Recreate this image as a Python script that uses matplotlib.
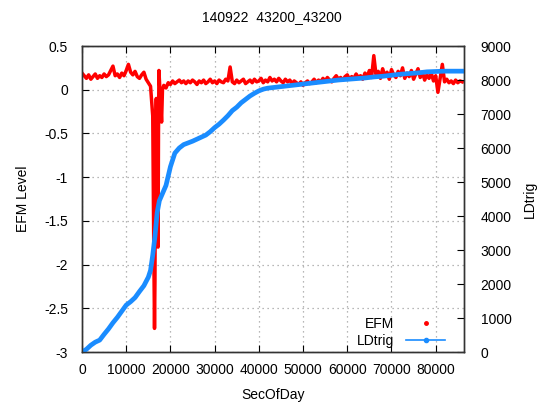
import matplotlib
matplotlib.use("Agg")
import matplotlib.pyplot as plt
from matplotlib.lines import Line2D

plt.rcParams['font.family'] = ['Liberation Sans', 'DejaVu Sans']
plt.rcParams['font.size'] = 10

# EFM level (seconds of day / level)
efm_sec = list(range(0, 16000, 500)) + [16000, 16200, 16400, 16500, 16600, 16800, 17000,
                                        17200, 17300, 17400, 17600, 17800, 18000, 18200] \
          + list(range(18500, 86500, 500))
efm_val = [0.19, 0.16, 0.13, 0.17, 0.12, 0.15, 0.18, 0.13, 0.16, 0.14,
           0.18, 0.15, 0.17, 0.22, 0.27, 0.16, 0.18, 0.14, 0.19, 0.16,
           0.22, 0.29, 0.20, 0.17, 0.21, 0.15, 0.13, 0.17, 0.20, 0.12,
           0.08, 0.04,
           # the dip
           -0.30, -1.60, -2.73, -2.20, -0.90, -0.10, -1.20,
           -1.80, -0.50, 0.22, 0.02, -0.15, -0.37, 0.00,
           # after
           0.05, 0.02, 0.08, 0.06, 0.10, 0.07, 0.09, 0.11, 0.08, 0.10,
           0.07, 0.10, 0.08, 0.11, 0.09, 0.06, 0.10, 0.08, 0.11, 0.07,
           0.09, 0.12, 0.08, 0.10, 0.07, 0.11, 0.09, 0.08, 0.12, 0.10,
           0.26, 0.09, 0.07, 0.11, 0.08, 0.10, 0.12, 0.07, 0.09, 0.11,
           0.08, 0.12, 0.09, 0.10, 0.13, 0.08, 0.11, 0.09, 0.14, 0.10,
           0.12, 0.09, 0.13, 0.10, 0.08, 0.12, 0.09, 0.11, 0.07, 0.10,
           0.08, 0.06, 0.09, 0.05, 0.08, 0.10, 0.07, 0.09, 0.12, 0.08,
           0.11, 0.09, 0.13, 0.10, 0.14, 0.11, 0.09, 0.13, 0.16, 0.12,
           0.14, 0.11, 0.15, 0.17, 0.12, 0.15, 0.13, 0.18, 0.14, 0.16,
           0.12, 0.19, 0.15, 0.22, 0.14, 0.39, 0.17, 0.21, 0.13, 0.24,
           0.16, 0.20, 0.12, 0.23, 0.17, 0.14, 0.21, 0.16, 0.25, 0.13,
           0.19, 0.15, 0.22, 0.12, 0.18, 0.24, 0.14, 0.20, 0.11, 0.17,
           0.13, 0.19, 0.10, 0.16, -0.03, 0.13, 0.29, 0.09, 0.12, 0.08,
           0.10, 0.07, 0.11, 0.08, 0.10, 0.09]

# LDtrig counts
ld_sec = [0, 1000, 2000, 3000, 4000, 5000, 6000, 7000, 8000, 9000,
          10000, 11000, 12000, 13000, 14000, 15000, 15500, 16000, 16500, 17000,
          17500, 18000, 19000, 20000, 21000, 22000, 23000, 24000, 25000, 26000,
          27000, 28000, 29000, 30000, 31000, 32000, 33000, 34000, 35000, 36000,
          37000, 38000, 39000, 40000, 41000, 42000, 44000, 46000, 48000, 50000,
          52000, 54000, 56000, 58000, 60000, 62000, 64000, 66000, 68000, 70000,
          72000, 74000, 76000, 78000, 80000, 82000, 84000, 86400]
ld_val = [0, 80, 200, 290, 350, 520, 680, 860, 1020, 1200,
          1380, 1480, 1600, 1780, 1950, 2200, 2400, 2850, 3400, 4100,
          4450, 4600, 4900, 5450, 5850, 6000, 6100, 6150, 6200, 6260,
          6320, 6380, 6480, 6600, 6700, 6820, 6950, 7100, 7200, 7330,
          7430, 7530, 7610, 7680, 7730, 7760, 7790, 7820, 7850, 7880,
          7910, 7940, 7970, 8000, 8020, 8040, 8060, 8090, 8110, 8140,
          8170, 8190, 8210, 8240, 8250, 8260, 8260, 8260]

red = '#ff0000'
blue = '#1a8cff'

fig = plt.figure(figsize=(5.44, 4.05), dpi=100)
ax = fig.add_axes([82 / 544, 1 - 352 / 405, (464 - 82) / 544, (352 - 46) / 405])
ax2 = ax.twinx()

ax.plot(efm_sec, efm_val, color=red, lw=2.5)
ax2.plot(ld_sec, ld_val, color=blue, lw=3.4, solid_capstyle='round')

ax.set_xlim(0, 86400)
ax.set_ylim(-3, 0.5)
ax2.set_ylim(0, 9000)
ax.set_xticks(range(0, 80001, 10000))
ax.set_yticks([-3, -2.5, -2, -1.5, -1, -0.5, 0, 0.5])
ax.set_yticklabels(['-3', '-2.5', '-2', '-1.5', '-1', '-0.5', '0', '0.5'])
ax2.set_yticks(range(0, 9001, 1000))

ax.grid(True, color='#a0a0a0', linestyle=(0, (1, 3)), linewidth=0.9)
ax.tick_params(axis='both', direction='in', length=5, top=True, labelsize=10, pad=8)
ax.tick_params(axis='y', pad=10)
ax2.tick_params(axis='y', direction='in', length=5, labelsize=10, pad=12)
for a in (ax, ax2):
    for s in a.spines.values():
        s.set_linewidth(1.0)
        s.set_color('#333333')

ax.set_xlabel('SecOfDay', fontsize=10, labelpad=8)
ax.set_ylabel('EFM Level', fontsize=10, labelpad=10)
ax2.set_ylabel('LDtrig', fontsize=10, labelpad=8)
fig.suptitle('140922  43200_43200', fontsize=10, y=0.975)

handles = [Line2D([], [], color=red, marker='o', markersize=2.5, linestyle='none'),
           Line2D([], [], color=blue, marker='o', markersize=3, lw=1.2)]
ax2.legend(handles, ['EFM', 'LDtrig'], loc='lower right', frameon=False,
           markerfirst=False, handlelength=2.8, handletextpad=0.9,
           labelspacing=0.25, borderaxespad=0.0, bbox_to_anchor=(0.965, -0.005),
           fontsize=10)

fig.savefig('out.png', dpi=100)
